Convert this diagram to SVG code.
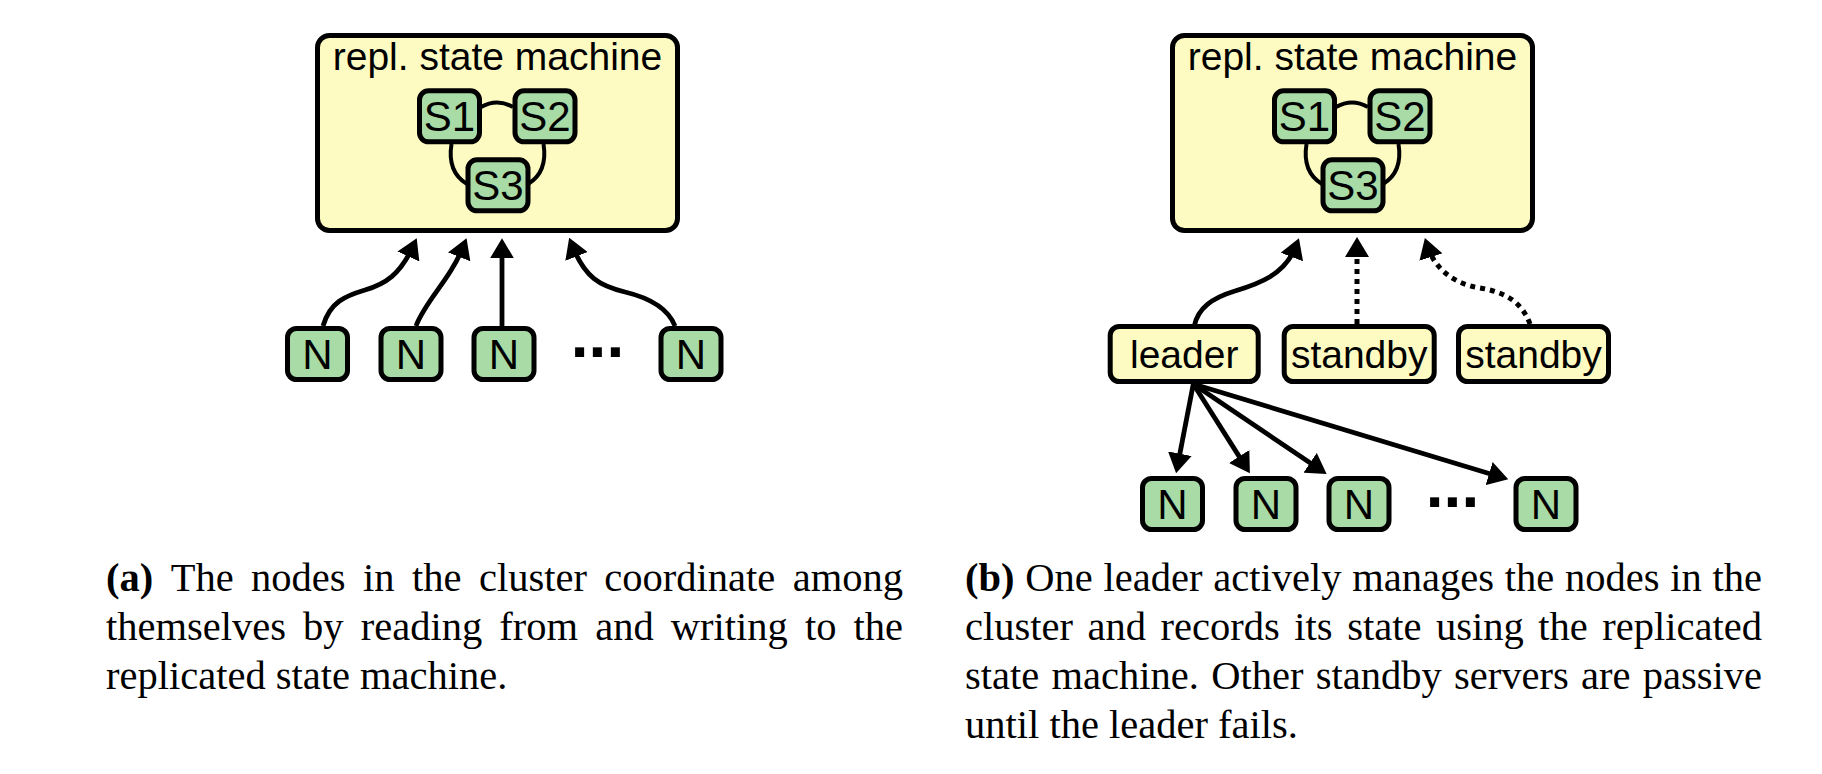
<svg xmlns="http://www.w3.org/2000/svg" width="1822" height="774" viewBox="0 0 1822 774">
<style>
.bg{fill:#ffffff}
.box{fill:#fefbc2;stroke:#000;stroke-width:5}
.node{fill:#a8dba5;stroke:#000;stroke-width:5}
.lbl{font-family:"Liberation Sans",Arial,sans-serif;font-size:39px;fill:#000;text-anchor:middle}
.nlbl{font-family:"Liberation Sans",Arial,sans-serif;font-size:42px;fill:#000;text-anchor:middle}
.dots{font-family:"Liberation Sans",Arial,sans-serif;font-size:64px;font-weight:bold;fill:#000;text-anchor:middle}
.link{fill:none;stroke:#000;stroke-width:4}
.arr{fill:none;stroke:#000;stroke-width:4.8;marker-end:url(#ah)}
.dot{fill:none;stroke:#000;stroke-width:5;stroke-dasharray:5 5;marker-end:url(#ah)}
.cap{font-family:"Liberation Serif","Times New Roman",serif;font-size:40.5px;fill:#000;font-kerning:none}
.b{font-weight:bold}
</style>
<defs>
<marker id="ah" markerUnits="userSpaceOnUse" viewBox="0 0 20 24" markerWidth="20" markerHeight="24" refX="12" refY="12" orient="auto">
<path d="M0,0 L20,12 L0,24 Z" fill="#000"/>
</marker>
</defs>
<rect class="bg" x="0" y="0" width="1822" height="774"/>

<!-- Panel (a) -->
<g id="a-rsm">
<rect class="box" x="317.5" y="35.5" width="360" height="195" rx="12"/>
<text class="lbl" x="497.5" y="70">repl. state machine</text>
</g>
<g id="a-inner-links">
<path class="link" d="M481,107 Q497,98 513,107"/>
<path class="link" d="M451.5,144 Q447,172 467,184"/>
<path class="link" d="M543.5,144 Q548,172 528,184"/>
</g>
<g id="a-S1"><rect class="node" x="419.5" y="90.8" width="60" height="51" rx="9"/><text class="nlbl" x="449.5" y="131">S1</text></g>
<g id="a-S2"><rect class="node" x="515" y="90.8" width="60" height="51" rx="9"/><text class="nlbl" x="545" y="131">S2</text></g>
<g id="a-S3"><rect class="node" x="468" y="159.8" width="60" height="51" rx="9"/><text class="nlbl" x="498" y="200">S3</text></g>

<g id="a-N1"><rect class="node" x="287.5" y="328.5" width="60" height="51" rx="9"/><text class="nlbl" x="317.5" y="369">N</text></g>
<g id="a-N2"><rect class="node" x="381" y="328.5" width="60" height="51" rx="9"/><text class="nlbl" x="411" y="369">N</text></g>
<g id="a-N3"><rect class="node" x="474" y="328.5" width="60" height="51" rx="9"/><text class="nlbl" x="504" y="369">N</text></g>
<g id="a-dots"><text class="dots" x="597.5" y="357">...</text></g>
<g id="a-N4"><rect class="node" x="661" y="328.5" width="60" height="51" rx="9"/><text class="nlbl" x="691" y="369">N</text></g>

<g id="a-connectors">
<path class="arr" d="M323,326 C330,302 345,296 365,290 S400,275 413.4,245.6"/>
<path class="arr" d="M416,326 C426,300 450,280 463.6,245.7"/>
<path class="arr" d="M502,326 L502,246.3"/>
<path class="arr" d="M675,326 C668,308 650,298 625,292 S585,278 572.1,245.3"/>
</g>

<!-- Panel (b) -->
<g id="b-rsm">
<rect class="box" x="1172.5" y="35.5" width="360" height="195" rx="12"/>
<text class="lbl" x="1352.5" y="70">repl. state machine</text>
</g>
<g id="b-inner-links">
<path class="link" d="M1336,107 Q1352,98 1368,107"/>
<path class="link" d="M1306.5,144 Q1302,172 1322,184"/>
<path class="link" d="M1398.5,144 Q1403,172 1383,184"/>
</g>
<g id="b-S1"><rect class="node" x="1274.5" y="90.8" width="60" height="51" rx="9"/><text class="nlbl" x="1304.5" y="131">S1</text></g>
<g id="b-S2"><rect class="node" x="1370" y="90.8" width="60" height="51" rx="9"/><text class="nlbl" x="1400" y="131">S2</text></g>
<g id="b-S3"><rect class="node" x="1323" y="159.8" width="60" height="51" rx="9"/><text class="nlbl" x="1353" y="200">S3</text></g>

<g id="b-leader"><rect class="box" x="1110.2" y="326.5" width="148" height="55" rx="9"/><text class="lbl" x="1184.2" y="367.5">leader</text></g>
<g id="b-standby1"><rect class="box" x="1284.2" y="326.5" width="150" height="55" rx="9"/><text class="lbl" x="1359.2" y="367.5">standby</text></g>
<g id="b-standby2"><rect class="box" x="1458.5" y="326.5" width="150" height="55" rx="9"/><text class="lbl" x="1533.5" y="367.5">standby</text></g>

<g id="b-N1"><rect class="node" x="1142.5" y="478.5" width="60" height="51" rx="9"/><text class="nlbl" x="1172.5" y="519">N</text></g>
<g id="b-N2"><rect class="node" x="1236" y="478.5" width="60" height="51" rx="9"/><text class="nlbl" x="1266" y="519">N</text></g>
<g id="b-N3"><rect class="node" x="1329" y="478.5" width="60" height="51" rx="9"/><text class="nlbl" x="1359" y="519">N</text></g>
<g id="b-dots"><text class="dots" x="1452.5" y="507">...</text></g>
<g id="b-N4"><rect class="node" x="1516" y="478.5" width="60" height="51" rx="9"/><text class="nlbl" x="1546" y="519">N</text></g>

<g id="b-connectors">
<path class="arr" d="M1194.3,326 C1198,308 1212,298 1235,291 S1285,275 1296.1,245.8"/>
<path class="dot" d="M1357,324 L1357,245"/>
<path class="dot" d="M1530,324 C1522,302 1505,292 1480,288 S1435,270 1427.3,245.6"/>
<path class="arr" d="M1193.3,384 L1177.6,465.5"/>
<path class="arr" d="M1193.3,384 L1245.6,466.6"/>
<path class="arr" d="M1193.3,384 L1320,469.6"/>
<path class="arr" d="M1193.3,384 L1500.6,477"/>
</g>

<!-- Captions -->
<g id="caption-a">
<text class="cap" x="106" y="591" style="word-spacing:7.3px" textLength="797" lengthAdjust="spacing"><tspan class="b">(a)</tspan> The nodes in the cluster coordinate among</text>
<text class="cap" x="106" y="640" style="word-spacing:7px" textLength="797" lengthAdjust="spacing">themselves by reading from and writing to the</text>
<text class="cap" x="106" y="689">replicated state machine.</text>
</g>
<g id="caption-b">
<text class="cap" x="965" y="591" style="word-spacing:0.6px" textLength="797" lengthAdjust="spacing"><tspan class="b">(b)</tspan> One leader actively manages the nodes in the</text>
<text class="cap" x="965" y="640" style="word-spacing:4.4px" textLength="797" lengthAdjust="spacing">cluster and records its state using the replicated</text>
<text class="cap" x="965" y="689" style="word-spacing:2.2px" textLength="797" lengthAdjust="spacing">state machine. Other standby servers are passive</text>
<text class="cap" x="965" y="738">until the leader fails.</text>
</g>
</svg>
